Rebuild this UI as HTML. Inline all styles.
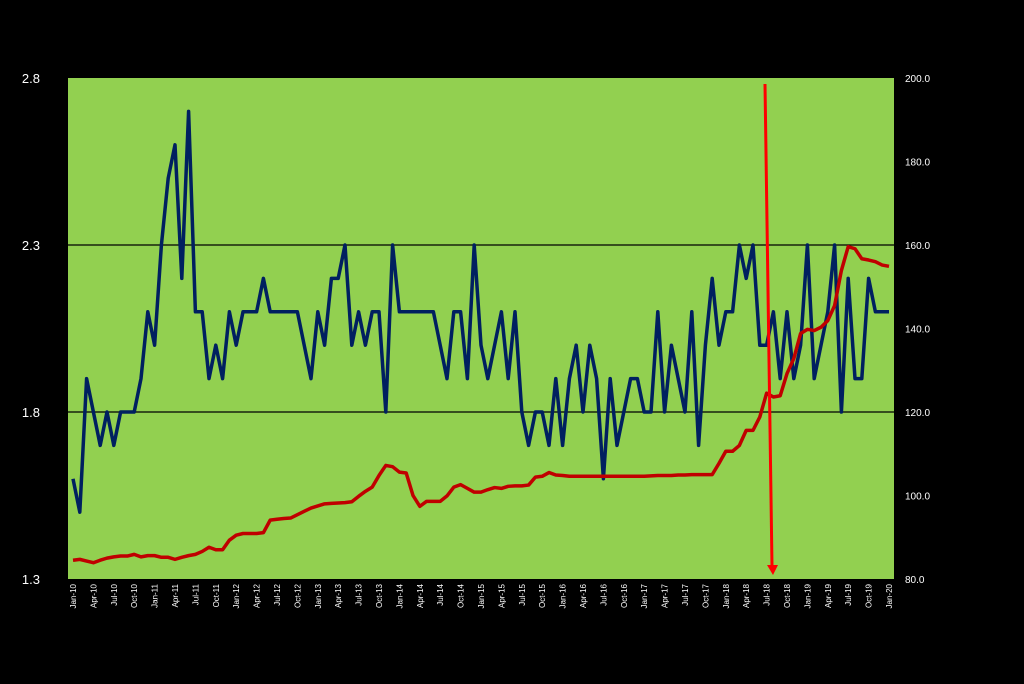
<!DOCTYPE html>
<html><head><meta charset="utf-8"><style>
html,body{margin:0;padding:0;background:#000;}
svg{display:block;font-family:"Liberation Sans",sans-serif;}
</style></head><body>
<svg id="chart" width="1024" height="684" xmlns="http://www.w3.org/2000/svg">
<rect x="0" y="0" width="1024" height="684" fill="#000"/>
<rect x="68" y="78" width="826" height="501" fill="#92D050"/>
<g id="grid"></g><g id="series"></g><g id="axes"></g>
<g>
<line x1="765" y1="84" x2="772" y2="566" stroke="#FF0000" stroke-width="3"/>
<polygon points="767,565 778,565 773,575" fill="#FF0000"/>
</g>
</svg>
<script>
const leftTicks=[1.3,1.8,2.3,2.8];
const rightTicks=[80,100,120,140,160,180,200];
const months=["Jan","Apr","Jul","Oct"];
const blueValues=[1.6,1.5,1.9,1.8,1.7,1.8,1.7,1.8,1.8,1.8,1.9,2.1,2.0,2.3,2.5,2.6,2.2,2.7,2.1,2.1,1.9,2.0,1.9,2.1,2.0,2.1,2.1,2.1,2.2,2.1,2.1,2.1,2.1,2.1,2.0,1.9,2.1,2.0,2.2,2.2,2.3,2.0,2.1,2.0,2.1,2.1,1.8,2.3,2.1,2.1,2.1,2.1,2.1,2.1,2.0,1.9,2.1,2.1,1.9,2.3,2.0,1.9,2.0,2.1,1.9,2.1,1.8,1.7,1.8,1.8,1.7,1.9,1.7,1.9,2.0,1.8,2.0,1.9,1.6,1.9,1.7,1.8,1.9,1.9,1.8,1.8,2.1,1.8,2.0,1.9,1.8,2.1,1.7,2.0,2.2,2.0,2.1,2.1,2.3,2.2,2.3,2.0,2.0,2.1,1.9,2.1,1.9,2.0,2.3,1.9,2.0,2.1,2.3,1.8,2.2,1.9,1.9,2.2,2.1,2.1,2.1];
const redValues=[84.5,84.7,84.3,83.9,84.5,85.0,85.3,85.5,85.5,85.9,85.3,85.6,85.6,85.2,85.2,84.7,85.2,85.6,85.9,86.6,87.6,87,87,89.3,90.5,90.9,90.9,90.9,91.1,94.1,94.3,94.5,94.6,95.4,96.2,97,97.5,98,98.1,98.2,98.3,98.5,99.8,101,102,104.8,107.2,106.9,105.6,105.4,100,97.4,98.6,98.6,98.6,99.9,102,102.6,101.7,100.8,100.8,101.4,101.9,101.7,102.2,102.3,102.3,102.5,104.4,104.6,105.5,104.9,104.8,104.6,104.6,104.6,104.6,104.6,104.6,104.6,104.6,104.6,104.6,104.6,104.6,104.7,104.8,104.8,104.8,104.9,104.9,105,105,105,105,107.7,110.6,110.6,112,115.6,115.6,118.8,124.5,123.6,123.9,129.2,132.8,138.8,139.8,139.5,140.3,141.9,145.5,153.9,159.6,159.1,156.7,156.4,156,155.2,154.9];
const NS="http://www.w3.org/2000/svg";
const X0=73,X1=889,YT=78,YB=579;
const x=i=>X0+i*(X1-X0)/(blueValues.length-1);
const yL=v=>YB-(v-1.3)/1.5*(YB-YT);
const yR=v=>YB-(v-80)/120*(YB-YT);
function mk(tag,attrs,parent){const e=document.createElementNS(NS,tag);for(const k in attrs)e.setAttribute(k,attrs[k]);parent.appendChild(e);return e;}
const grid=document.getElementById('grid'),ser=document.getElementById('series'),ax=document.getElementById('axes');
leftTicks.forEach(v=>{
 if(v>1.3&&v<2.8){const g=mk('line',{x1:68,x2:894,y1:yL(v),y2:yL(v),stroke:'#000','stroke-width':1.2},grid);
 
 }
 const t=mk('text',{x:40,y:yL(v)+5,fill:'#fff','font-size':13,'text-anchor':'end'},ax);
 t.textContent=v.toFixed(1);
 
 
});
rightTicks.forEach(v=>{
 const t=mk('text',{x:905,y:yR(v)+4,fill:'#fff','font-size':10},ax);
 t.textContent=v.toFixed(1);
 
 
});
for(let i=0;i<blueValues.length;i+=3){
 const yr=10+Math.floor(i/12);
 const lbl=months[(i/3)%4]+"-"+yr;
 const t=mk('text',{transform:`translate(${x(i)+3},584) rotate(-90)`,fill:'#fff','font-size':8,'text-anchor':'end'},ax);
 t.textContent=lbl;
 
 
}
const bl=mk('polyline',{points:blueValues.map((v,i)=>x(i)+","+yL(v)).join(" "),fill:'none',stroke:'#002060','stroke-width':3.5,'stroke-linejoin':'round'},ser);


const rl=mk('polyline',{points:redValues.map((v,i)=>x(i)+","+yR(v)).join(" "),fill:'none',stroke:'#C00000','stroke-width':3.5,'stroke-linejoin':'round'},ser);


</script>
</body></html>
